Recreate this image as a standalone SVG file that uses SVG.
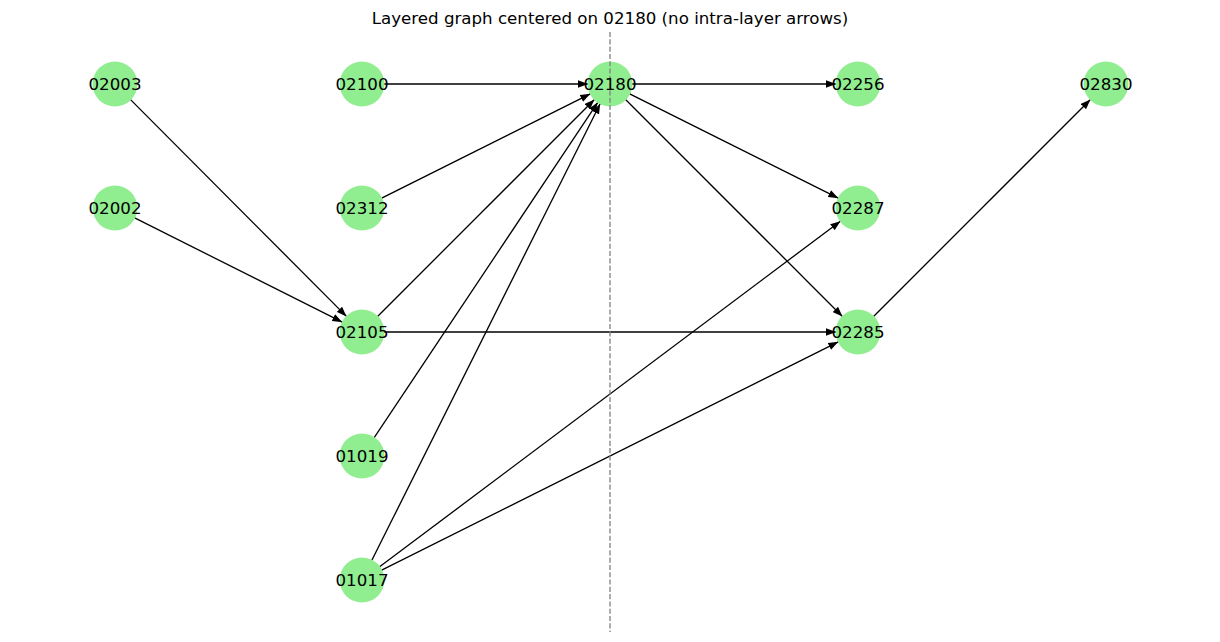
<svg xmlns="http://www.w3.org/2000/svg" width="1220" height="642" viewBox="0 0 1220 642">
<defs>
<marker id="ah" markerUnits="userSpaceOnUse" markerWidth="10" markerHeight="8" viewBox="0 0 8 6" refX="8" refY="3" orient="auto">
<path d="M0,0 L8,3 L0,6 z" fill="#000"/>
</marker>
<style>
.node circle{fill:#90EE90;}
.node text{font-family:"DejaVu Sans",sans-serif;font-size:16.67px;fill:#000;text-anchor:middle;dominant-baseline:central;}
#edges line{stroke:#000;stroke-width:1.3;marker-end:url(#ah);}
.title{font-family:"DejaVu Sans",sans-serif;font-size:16.67px;text-anchor:middle;fill:#000;}
</style>
</defs>
<rect width="1220" height="642" fill="#fff"/>
<text class="title" x="610" y="24">Layered graph centered on 02180 (no intra-layer arrows)</text>
<g id="edges">
<line x1="130.53" y1="99.59" x2="346.47" y2="316.41"/>
<line x1="134.66" y1="217.87" x2="342.34" y2="322.13"/>
<line x1="384" y1="84" x2="588" y2="84"/>
<line x1="381.68" y1="198.16" x2="590.32" y2="93.84"/>
<line x1="377.56" y1="316.44" x2="594.44" y2="99.56"/>
<line x1="374.20" y1="437.69" x2="597.80" y2="102.31"/>
<line x1="371.84" y1="560.32" x2="600.16" y2="103.68"/>
<line x1="384" y1="332" x2="836" y2="332"/>
<line x1="379.6" y1="566.8" x2="840.4" y2="221.2"/>
<line x1="381.68" y1="570.16" x2="838.32" y2="341.84"/>
<line x1="632" y1="84" x2="836" y2="84"/>
<line x1="629.68" y1="93.84" x2="838.32" y2="198.16"/>
<line x1="625.56" y1="99.56" x2="842.44" y2="316.44"/>
<line x1="873.56" y1="316.44" x2="1090.44" y2="99.56"/>
</g>
<g id="n02003" class="node"><circle cx="115" cy="84" r="22.5"/></g>
<g id="n02002" class="node"><circle cx="115" cy="208" r="22.5"/></g>
<g id="n02100" class="node"><circle cx="362" cy="84" r="22.5"/></g>
<g id="n02312" class="node"><circle cx="362" cy="208" r="22.5"/></g>
<g id="n02105" class="node"><circle cx="362" cy="332" r="22.5"/></g>
<g id="n01019" class="node"><circle cx="362" cy="456" r="22.5"/></g>
<g id="n01017" class="node"><circle cx="362" cy="580" r="22.5"/></g>
<g id="n02180" class="node"><circle cx="610" cy="84" r="22.5"/></g>
<g id="n02256" class="node"><circle cx="858" cy="84" r="22.5"/></g>
<g id="n02287" class="node"><circle cx="858" cy="208" r="22.5"/></g>
<g id="n02285" class="node"><circle cx="858" cy="332" r="22.5"/></g>
<g id="n02830" class="node"><circle cx="1106" cy="84" r="22.5"/></g>
<line x1="610" y1="32" x2="610" y2="632" stroke="#808080" stroke-width="1.3" stroke-dasharray="5.1,2.2"/>
<g class="node">
<text x="115" y="84">02003</text>
<text x="115" y="208">02002</text>
<text x="362" y="84">02100</text>
<text x="362" y="208">02312</text>
<text x="362" y="332">02105</text>
<text x="362" y="456">01019</text>
<text x="362" y="580">01017</text>
<text x="610" y="84">02180</text>
<text x="858" y="84">02256</text>
<text x="858" y="208">02287</text>
<text x="858" y="332">02285</text>
<text x="1106" y="84">02830</text>
</g>
</svg>
